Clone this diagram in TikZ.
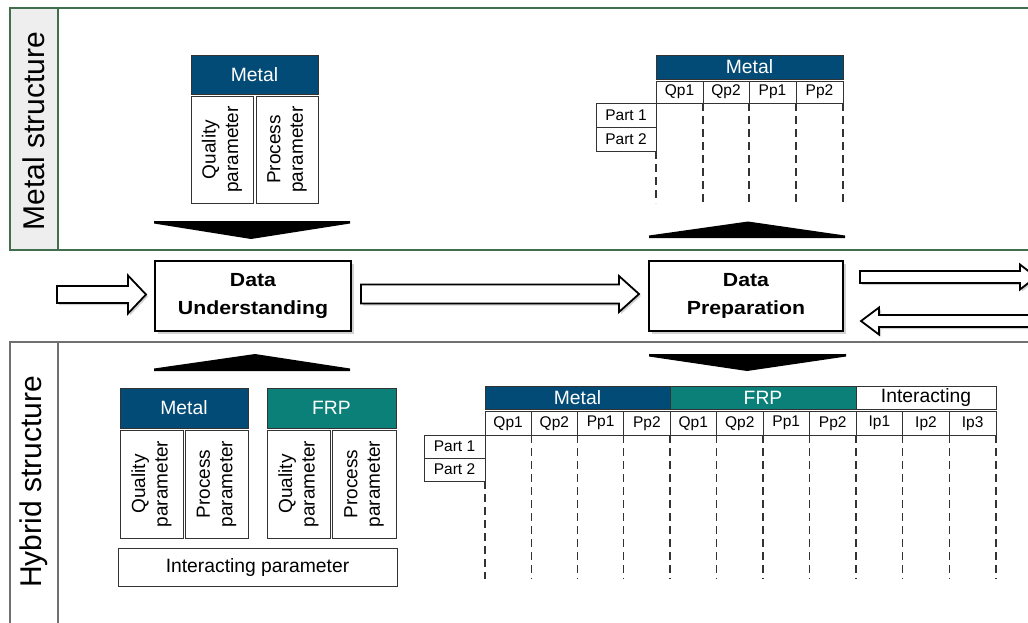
\documentclass[tikz,border=0pt]{standalone}
\usepackage{fontspec}
\setmainfont{Liberation Sans}
\newfontfamily\widesans[FakeStretch=1.12]{Liberation Sans}
\usetikzlibrary{shadows,calc}
\definecolor{metalblue}{HTML}{034B77}
\definecolor{frpteal}{HTML}{0B8078}
\definecolor{panelgreen}{HTML}{426E50}
\definecolor{panelgray}{HTML}{707070}
\definecolor{stripgray}{HTML}{EEEEEE}
\tikzset{
  cellbase/.style={draw=black!80, line width=0.8pt, inner sep=0pt, outer sep=0pt},
  hdrblue/.style={cellbase, fill=metalblue, text=white, font=\fontsize{19.3}{21}\selectfont},
  hdrteal/.style={cellbase, fill=frpteal, text=white, font=\fontsize{19.3}{21}\selectfont},
  hdrwhite/.style={cellbase, fill=white, font=\fontsize{19.3}{21}\selectfont},
  parbox/.style={cellbase, fill=white},
  partext/.style={rotate=90, align=center, inner sep=0pt, font=\fontsize{19}{22.5}\selectfont},
  tcell/.style={cellbase, fill=white, font=\fontsize{15.5}{17}\selectfont},
  phase/.style={draw=black, line width=2pt, fill=white, align=center,
    font=\widesans\bfseries\fontsize{19}{28}\selectfont,
    drop shadow={shadow xshift=2.5pt, shadow yshift=-2.5pt, fill=black!35}},
  barrow/.style={draw=black, line width=1.8pt, fill=white, line join=miter,
    drop shadow={shadow xshift=2pt, shadow yshift=-2pt, fill=black!35}},
  chevron/.style={fill=black},
  dashcol/.style={draw=black!80, line width=1.4pt, dash pattern=on 8pt off 5pt},
  sidetext/.style={rotate=90, inner sep=0pt, font=\fontsize{30}{31}\selectfont},
}
% cell with corners (x1,y1) (x2,y2)
\newcommand{\cellbox}[7]{%
  \node[#6, minimum width={#4-#2}, minimum height={#5-#3}] (#1) at ({(#2+#4)/2},{(#3+#5)/2}) {#7};}
% horizontal block arrow: [opts]{tail}{tip}{shaft half}{head half}{head length}
\newcommand{\harrow}[6][]{%
  \path[barrow,#1] let \p1=(#2), \p2=(#3), \n1={sign(\x2-\x1)} in
   (\x1,{\y1+#4}) -- ({\x2-(\n1)*#6},{\y1+#4}) -- ({\x2-(\n1)*#6},{\y1+#5}) -- (\x2,\y1)
   -- ({\x2-(\n1)*#6},{\y1-#5}) -- ({\x2-(\n1)*#6},{\y1-#4}) -- (\x1,{\y1-#4}) -- cycle;}
\begin{document}
\begin{tikzpicture}[x=1pt,y=-1pt]
\useasboundingbox (0,0) rectangle (1028,622);
\clip (0,0) rectangle (1028,622);
\fill[white] (0,0) rectangle (1028,622);

% panels
\draw[panelgreen, line width=1.2pt] (10,8) rectangle (1060,250);
\filldraw[fill=stripgray, draw=panelgreen, line width=1.2pt] (10,8) rectangle (58,250);
\node[sidetext] (ms) at (34,131) {Metal structure};
\draw[panelgray, line width=1.2pt] (10,342) rectangle (1060,660);
\draw[panelgray, line width=1.2pt] (58,342) -- (58,660);
\node[sidetext] (hs) at (34,482) {Hybrid structure};

% phases
\node[phase, minimum width=196pt, minimum height=70pt] (du) at (253,296) {Data\\Understanding};
\node[phase, minimum width=194pt, minimum height=70pt] (dp) at (746,296) {Data\\Preparation};

% block arrows
\coordinate (inS) at (57,294.5);
\coordinate (inT) at ($(du.west)+(-8,-1.5)$);
\harrow{inS}{inT}{8.5pt}{19pt}{18pt}
\coordinate (midS) at ($(du.east)+(9,-2)$);
\coordinate (midT) at ($(dp.west)+(-9,-2)$);
\harrow{midS}{midT}{9.5pt}{18pt}{20pt}
\coordinate (outS) at ($(dp.east)+(16,-19)$);
\coordinate (outT) at (1036,277);
\harrow{outS}{outT}{6pt}{12.5pt}{16pt}
\coordinate (backS) at (1045,321);
\coordinate (backT) at ($(dp.east)+(17,25)$);
\harrow{backS}{backT}{6pt}{13.5pt}{18pt}

% chevrons
\fill[chevron] (154,221) -- (350,221) -- (350,223.5) -- (251,239) -- (154,223.5) -- cycle;
\fill[chevron] (649,238) -- (845,238) -- (845,235.5) -- (748,221.5) -- (649,235.5) -- cycle;
\fill[chevron] (154,371) -- (350,371) -- (350,368.5) -- (255,354) -- (154,368.5) -- cycle;
\fill[chevron] (649,354) -- (846,354) -- (846,356.5) -- (747,371) -- (649,356.5) -- cycle;

% top-left group
\cellbox{mh}{191}{55}{318}{94}{hdrblue}{Metal}
\cellbox{mq}{191}{96}{253}{203}{parbox}{}
\cellbox{mp}{256}{96}{318}{203}{parbox}{}
\node[partext] (mqt) at (mq) {Quality\\parameter};
\node[partext] (mpt) at (mp) {Process\\parameter};

% top-right table
\cellbox{tmh}{656}{55}{843}{79}{hdrblue}{Metal}
\cellbox{tc1}{656}{81}{703}{103}{tcell}{Qp1}
\cellbox{tc2}{703}{81}{749}{103}{tcell}{Qp2}
\cellbox{tc3}{749}{81}{796}{103}{tcell}{Pp1}
\cellbox{tc4}{796}{81}{843}{103}{tcell}{Pp2}
\cellbox{tp1}{596}{103}{656}{127}{tcell}{Part 1}
\cellbox{tp2}{596}{127}{656}{151}{tcell}{Part 2}
\coordinate (te0) at (656,203);
\draw[dashcol] (tp2.south east) -- (te0);
\foreach \i in {1,...,4} {
  \coordinate (te\i) at ($(tc\i.south east)+(0,100)$);
  \draw[dashcol] (tc\i.south east) -- (te\i);
}

% bottom-left group
\cellbox{bmh}{120}{388}{248}{428}{hdrblue}{Metal}
\cellbox{bmq}{120}{430}{183}{538}{parbox}{}
\cellbox{bmp}{185}{430}{248}{538}{parbox}{}
\cellbox{bfh}{267}{388}{396}{428}{hdrteal}{FRP}
\cellbox{bfq}{267}{430}{330}{538}{parbox}{}
\cellbox{bfp}{332}{430}{396}{538}{parbox}{}
\node[partext] (bmqt) at (bmq) {Quality\\parameter};
\node[partext] (bmpt) at (bmp) {Process\\parameter};
\node[partext] (bfqt) at (bfq) {Quality\\parameter};
\node[partext] (bfpt) at (bfp) {Process\\parameter};
\cellbox{bip}{118}{548}{397}{586}{hdrwhite}{Interacting parameter}

% bottom-right table
\cellbox{bth1}{485}{386}{670}{409}{hdrblue}{Metal}
\cellbox{bth2}{670}{386}{856}{409}{hdrteal}{FRP}
\cellbox{bth3}{856}{386}{996}{409}{hdrwhite}{Interacting}
\cellbox{bc1}{485}{411.5}{531.25}{435}{tcell}{Qp1}
\cellbox{bc2}{531.25}{411.5}{577.5}{435}{tcell}{Qp2}
\cellbox{bc3}{577.5}{411.5}{623.75}{435}{tcell}{Pp1}
\cellbox{bc4}{623.75}{411.5}{670}{435}{tcell}{Pp2}
\cellbox{bc5}{670}{411.5}{716.5}{435}{tcell}{Qp1}
\cellbox{bc6}{716.5}{411.5}{763}{435}{tcell}{Qp2}
\cellbox{bc7}{763}{411.5}{809.5}{435}{tcell}{Pp1}
\cellbox{bc8}{809.5}{411.5}{856}{435}{tcell}{Pp2}
\cellbox{bc9}{856}{411.5}{902.7}{435}{tcell}{Ip1}
\cellbox{bc10}{902.7}{411.5}{949.3}{435}{tcell}{Ip2}
\cellbox{bc11}{949.3}{411.5}{996}{435}{tcell}{Ip3}
\cellbox{bp1}{424}{435}{485}{458}{tcell}{Part 1}
\cellbox{bp2}{424}{458}{485}{481}{tcell}{Part 2}
\coordinate (be0) at (485,579);
\draw[dashcol] (bp2.south east) -- (be0);
\foreach \i in {1,...,11} {
  \coordinate (be\i) at ($(bc\i.south east)+(0,144)$);
  \draw[dashcol] (bc\i.south east) -- (be\i);
}
\end{tikzpicture}
\end{document}
